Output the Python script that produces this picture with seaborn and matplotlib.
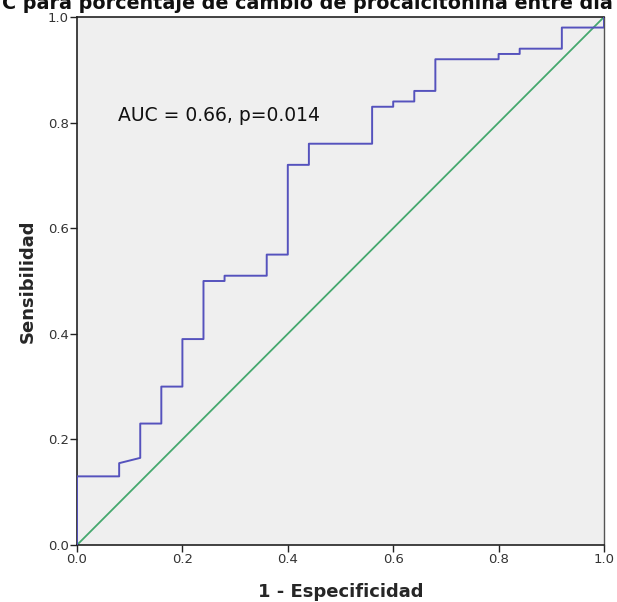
import matplotlib
matplotlib.use("Agg")
import matplotlib.pyplot as plt
import seaborn as sns
import pandas as pd

# ROC curve points (1 - specificity, sensitivity)
fpr = [0.00, 0.00, 0.08, 0.08, 0.12, 0.12, 0.16, 0.16, 0.20, 0.20, 0.24, 0.24,
       0.28, 0.28, 0.36, 0.36, 0.40, 0.40, 0.44, 0.44, 0.56, 0.56, 0.60, 0.60,
       0.64, 0.64, 0.68, 0.68, 0.80, 0.80, 0.84, 0.84, 0.92, 0.92, 1.00, 1.00]
tpr = [0.00, 0.13, 0.13, 0.155, 0.165, 0.23, 0.23, 0.30, 0.30, 0.39, 0.39, 0.50,
       0.50, 0.51, 0.51, 0.55, 0.55, 0.72, 0.72, 0.76, 0.76, 0.83, 0.83, 0.84,
       0.84, 0.86, 0.86, 0.92, 0.92, 0.93, 0.93, 0.94, 0.94, 0.98, 0.98, 1.00]
ref_line = [0.0, 1.0]
ticks = [0.0, 0.2, 0.4, 0.6, 0.8, 1.0]
tick_labels = ["0.0", "0.2", "0.4", "0.6", "0.8", "1.0"]
title = "C para porcentaje de cambio de procalcitonina entre día"
annotation = "AUC = 0.66, p=0.014"

sns.set_theme(style="white")
plt.rcParams["font.family"] = ["DejaVu Sans"]

fig = plt.figure(figsize=(6.17, 6.02), dpi=100)
ax = fig.add_axes([77 / 617, 1 - 545 / 602, 527 / 617, 528 / 602])
ax.set_facecolor("#efefef")

df = pd.DataFrame({"fpr": fpr, "tpr": tpr})
ax.plot(ref_line, ref_line, color="#45a86e", lw=1.3, zorder=2)
sns.lineplot(data=df, x="fpr", y="tpr", sort=False, estimator=None,
             color="#5552bd", lw=1.4, ax=ax, zorder=3)

ax.set_xlim(0, 1)
ax.set_ylim(0, 1)
ax.set_xticks(ticks)
ax.set_xticklabels(tick_labels)
ax.set_yticks(ticks)
ax.set_yticklabels(tick_labels)
ax.tick_params(axis="both", direction="out", length=5, width=1, color="#222222",
               labelsize=9.5, labelcolor="#333333", pad=1,
               bottom=True, left=True)

for side in ["left", "bottom", "top"]:
    ax.spines[side].set_color("#222222")
    ax.spines[side].set_linewidth(1.2)
ax.spines["right"].set_color("#555555")
ax.spines["right"].set_linewidth(1.0)

ax.set_xlabel("1 - Especificidad", fontsize=13, fontweight="bold", labelpad=12)
ax.set_ylabel("Sensibilidad", fontsize=13, fontweight="bold", labelpad=8)

ax.text(0.078, 0.814, annotation, fontsize=13.5, color="#111111",
        ha="left", va="center")

fig.text(0.003, 1 - 9 / 602, title, fontsize=13.8, fontweight="bold",
         ha="left", va="baseline", color="#111111")

fig.savefig("out.png", dpi=100, facecolor="white")
